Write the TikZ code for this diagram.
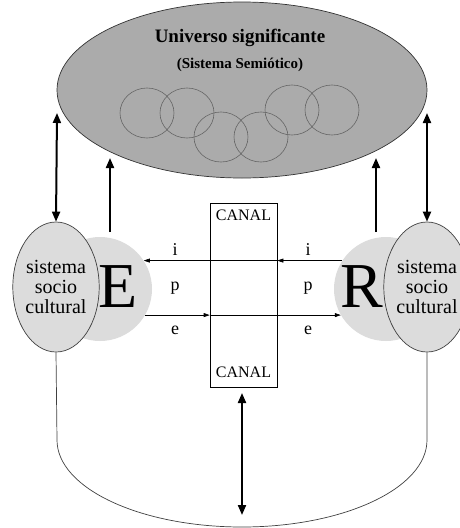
\documentclass[tikz,border=0pt]{standalone}
\usepackage{fontspec}
\setmainfont{Liberation Serif}
\usetikzlibrary{shapes.geometric,arrows.meta}
\definecolor{univgray}{HTML}{ABABAB}
\definecolor{softgray}{HTML}{DCDCDC}
\tikzset{
  bigarrow/.style={line width=2pt,-{Triangle[length=10pt,width=8pt]}},
  botharrow/.style={line width=2pt,{Triangle[length=10pt,width=8pt]}-{Triangle[length=10pt,width=8pt]}},
  flow/.style={line width=0.6pt,-{Triangle[length=6pt,width=4pt]}},
  sistema/.style={ellipse,draw=black!75,fill=softgray,line width=0.7pt,minimum width=84pt,minimum height=130pt,inner sep=0pt,align=center,font=\fontsize{20}{20}\selectfont},
  actor/.style={circle,fill=softgray,minimum size=104pt,inner sep=0pt},
  letra/.style={inner sep=0pt,font=\fontsize{64}{64}\selectfont},
  signo/.style={inner sep=0pt,font=\fontsize{18}{18}\selectfont},
  canaltext/.style={inner sep=0pt,font=\fontsize{16}{16}\selectfont},
}

\begin{document}
\begin{tikzpicture}[x=1pt,y=-1pt]
\useasboundingbox (0,0) rectangle (460,528);
\node[ellipse,draw=black!80,fill=univgray,line width=0.7pt,minimum width=370pt,minimum height=176pt] (univ) at (242,90) {};
\node[font=\fontsize{19}{19}\bfseries\selectfont] (titulo) at (240,38) {Universo significante};
\node[font=\fontsize{15}{15}\bfseries\selectfont] (subtitulo) at (240,65) {(Sistema Semiótico)};
\foreach \cx/\cy in {147/113,187/113,221/137,261/137,292/110,332/110}
  \draw[black!60,line width=0.6pt] (\cx,\cy) circle[x radius=27,y radius=25];

\node[actor] (cE) at (100,289) {};
\node[actor] (cR) at (386,289) {};
\node[sistema] (sisE) at (56,287) {sistema\\socio\\cultural};
\node[sistema] (sisR) at (427,287) {sistema\\socio\\cultural};
\node[letra] (E) at (118,287) {E};
\node[letra] (R) at (362,287) {R};

\node[draw,line width=0.6pt,minimum width=67pt,minimum height=184pt,inner sep=0pt] (canal) at (243.5,295) {};
\node[canaltext,anchor=north] (canalA) at ([yshift=-7pt]canal.north) {CANAL};
\node[canaltext,anchor=south] (canalB) at ([yshift=9pt]canal.south) {CANAL};

\draw[flow] (cR.147) -- (canal.east |- cR.147);
\draw[flow] (canal.east |- cR.147) -- (cE.33);
\draw[flow] (cE.-30) -- (canal.west |- cE.-30);
\draw[flow] (canal.west |- cE.-30) -- (cR.210);

\node[signo] (iE) at (175,250) {i};
\node[signo] (pE) at (175,288) {p};
\node[signo] (eE) at (175,330) {e};
\node[signo] (iR) at (308,250) {i};
\node[signo] (pR) at (308,288) {p};
\node[signo] (eR) at (308,330) {e};

\coordinate (uE) at (57,113);
\coordinate (uR) at (427,113);
\coordinate (sE) at (110,232);
\coordinate (tE) at (110,158);
\coordinate (sR) at (376,232);
\coordinate (tR) at (376,158);
\coordinate (cTop) at (242,393);
\coordinate (cBot) at (242,515);
\draw[botharrow] (uE) -- (sisE.north);
\draw[botharrow] (uR) -- (sisR.north);
\draw[bigarrow] (sE) -- (tE);
\draw[bigarrow] (sR) -- (tR);
\draw[botharrow] (cTop) -- (cBot);

\draw[black!75,line width=0.7pt] (sisE.south) -- (57,440) arc[start angle=180,end angle=0,x radius=185,y radius=87] -- (sisR.south);
\end{tikzpicture}
\end{document}
